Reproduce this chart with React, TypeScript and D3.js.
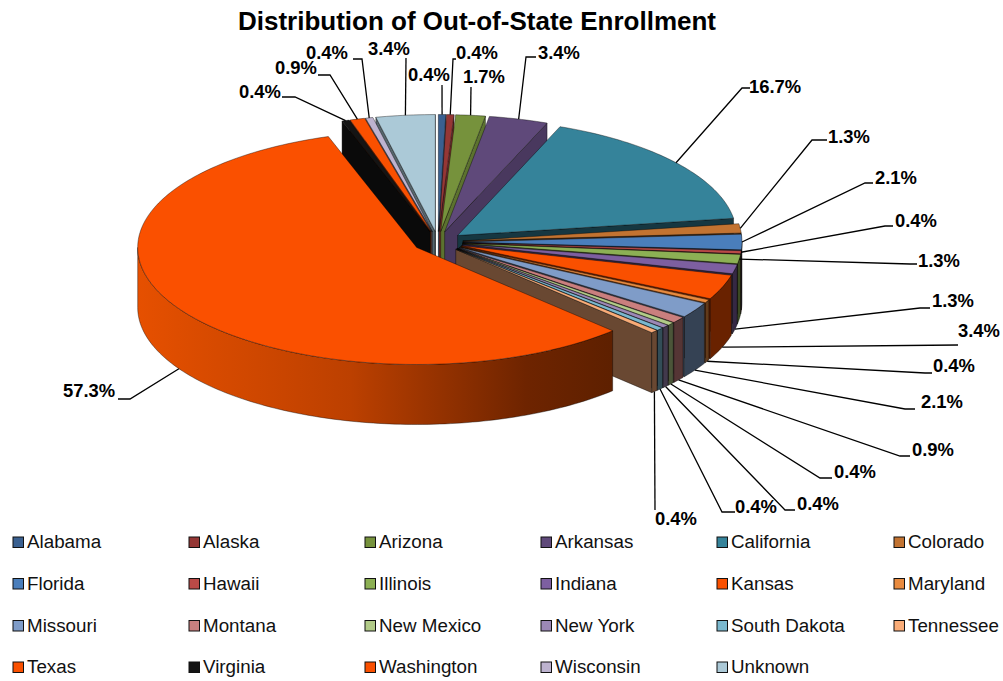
import React from "react";
import * as d3 from "d3";

const categories = ["Alabama","Alaska","Arizona","Arkansas","California","Colorado","Florida","Hawaii","Illinois","Indiana","Kansas","Maryland","Missouri","Montana","New Mexico","New York","South Dakota","Tennessee","Texas","Virginia","Washington","Wisconsin","Unknown"];
const counts = [1,1,4,8,39,3,5,1,3,3,8,1,5,2,1,1,1,1,134,1,2,1,8];
const colors = ["#3A6090","#953735","#76923C","#5F497A","#35839A","#C27331","#4A7EBB","#BA4A47","#8CB054","#7D5FA0","#FA5000","#E98B3F","#7F9CC8","#CA7F7E","#B2CB88","#9C88B6","#7AB8CE","#F9AC78","#FA5000","#141414","#FA5000","#BDB3CF","#ABC9D7"];

// label layout: text centre, optional elbow point where the leader meets the label
const labelCentres: [number, number][] = [[429,75],[477,53],[484,77],[559,53],[775,87],[849,137],[896,178],[916,221],[939,261],[953,301],[979,331],[954,366],[942,402],[933,450],[855,472],[818,504],[756,507],[676,519],[89,391],[260,92],[296,68],[327,53],[389,49]];
const leaderBends: [number, number][][] = [
  [[442,85]],[[453,59],[456,59]],[[471,87]],[[526,57],[536,57]],[[742,88],[750,88]],
  [[812,140],[827,140]],[[865,183],[873,183]],[[885,226],[893,226]],[[910,264],[917,264]],
  [[920,308],[930,308]],[[958,345]],[[925,373],[932,373]],[[905,409],[915,409]],[[900,456],[910,456]],
  [[820,478],[832,478]],[[785,510],[795,510]],[[722,512],[735,512]],[[655,510]],
  [[130,399],[118,399]],[[295,97],[282,97]],[[330,75],[318,75]],[[362,59],[353,59]],[[406,58]]
];
const leaderAtFoot = [9,10,11,12,13,14,15,16,17,18];

const W = 1003, H = 681;
const cx = 438, cy = 242, rx = 279, ry = 117, explode = 25, depth = 60;
const xUnit = d3.scaleLinear().domain([-1, 1]).range([cx - rx, cx + rx]);
const yUnit = d3.scaleLinear().domain([-1, 1]).range([cy - ry, cy + ry]);
const wallTone = d3.scaleLinear().domain([0.35, 1.05]).range([0.78, 0.42]).clamp(true);
const total = d3.sum(counts);

const arcs = d3.pie<number>().sort(null).value((d) => d)(counts);
const shade = (c: string, f: number) => {
  const r = d3.rgb(c);
  return d3.rgb(r.r * f, r.g * f, r.b * f).formatHex();
};
type Pt = [number, number];
const line = d3.line<Pt>();
const offset = (a: number): Pt => [
  xUnit((explode / rx) * Math.sin(a)) - cx,
  yUnit((-explode / rx) * Math.cos(a)) - cy,
];
const rim = (a: number, o: Pt, dz = 0): Pt => [
  xUnit(Math.sin(a)) + o[0],
  yUnit(-Math.cos(a)) + o[1] + dz,
];
const sweep = (a: number, b: number) => {
  const n = Math.max(2, Math.ceil((b - a) / 0.02));
  return d3.range(n + 1).map((i) => a + ((b - a) * i) / n);
};

const sliceShapes = arcs.map((arc, i) => {
  const a = arc.startAngle, b = arc.endAngle, mid = (a + b) / 2;
  const o = offset(mid);
  const apex: Pt = [cx + o[0], cy + o[1]];
  const foot: Pt = [apex[0], apex[1] + depth];
  const top = line([apex, ...sweep(a, b).map((t) => rim(t, o))]) + "Z";
  const cut = (t: number) => line([apex, rim(t, o), rim(t, o, depth), foot]) + "Z";
  const lo = Math.max(a, Math.PI / 2), hi = Math.min(b, (3 * Math.PI) / 2);
  const outer = hi > lo
    ? line([...sweep(lo, hi).map((t) => rim(t, o)), ...sweep(lo, hi).reverse().map((t) => rim(t, o, depth))]) + "Z"
    : null;
  const startCut = Math.sin(a) < 0 ? cut(a) : null;
  const endCut = Math.sin(b) > 0 ? cut(b) : null;
  const atFoot = leaderAtFoot.includes(i);
  const anchor = rim(mid, o, atFoot ? depth : 0);
  return { i, top, outer, startCut, endCut, anchor, endTone: wallTone(b) };
});

// back to front: left group from the back, then the right group, Texas last
const leftIdx = [22, 21, 20, 19];
const rightIdx = d3.range(0, 18);
const order = [...leftIdx, ...rightIdx, 18];

const legendCols = [13, 189, 365, 541, 717, 894];
const legendRows = [542.5, 584, 626, 667.5];
const font = "'Liberation Sans', Arial, sans-serif";

export default function App() {
  return (
    <svg width={W} height={H} viewBox={`0 0 ${W} ${H}`} style={{ position: "absolute", left: 0, top: 0, background: "#fff" }} fontFamily={font}>
      <defs>
        <linearGradient id="texasWall" gradientUnits="userSpaceOnUse" x1={137} x2={612} y1={0} y2={0}>
          <stop offset="0" stopColor="#E65000" />
          <stop offset="0.45" stopColor="#BC4000" />
          <stop offset="0.82" stopColor="#6E2400" />
          <stop offset="1" stopColor="#5E2000" />
        </linearGradient>
      </defs>
      <text x={477} y={30} textAnchor="middle" fontSize={26} fontWeight="bold" fill="#000">Distribution of Out-of-State Enrollment</text>

      {order.map((k) => {
        const s = sliceShapes[k];
        const c = colors[k];
        const edge = { stroke: "#000", strokeOpacity: 0.55, strokeWidth: 0.7, strokeLinejoin: "round" as const };
        return (
          <g key={k}>
            {s.startCut && <path d={s.startCut} fill={shade(c, 0.5)} {...edge} />}
            {s.endCut && <path d={s.endCut} fill={shade(c, s.endTone)} {...edge} />}
            {s.outer && <path d={s.outer} fill={k === 18 ? "url(#texasWall)" : shade(c, 0.42)} {...edge} />}
            <path d={s.top} fill={c} {...edge} />
          </g>
        );
      })}

      {sliceShapes.map((s) => (
        <polyline key={s.i} points={[s.anchor, ...leaderBends[s.i]].map((p) => p.join(",")).join(" ")} fill="none" stroke="#000" strokeWidth={1.3} />
      ))}
      {sliceShapes.map((s) => (
        <text key={s.i} x={labelCentres[s.i][0]} y={labelCentres[s.i][1] + 6} textAnchor="middle" fontSize={18.4} fontWeight="bold" fill="#000">
          {((counts[s.i] / total) * 100).toFixed(1)}%
        </text>
      ))}

      {categories.map((name, i) => {
        const col = i % 6, row = Math.floor(i / 6);
        const x = legendCols[col], y = legendRows[row];
        return (
          <g key={name}>
            <rect x={x} y={y - 5.5} width={10.5} height={10.5} fill={colors[i]} stroke="#111" strokeWidth={1} />
            <text x={x + 14} y={y + 5.5} fontSize={18.8} fill="#111">{name}</text>
          </g>
        );
      })}
    </svg>
  );
}
